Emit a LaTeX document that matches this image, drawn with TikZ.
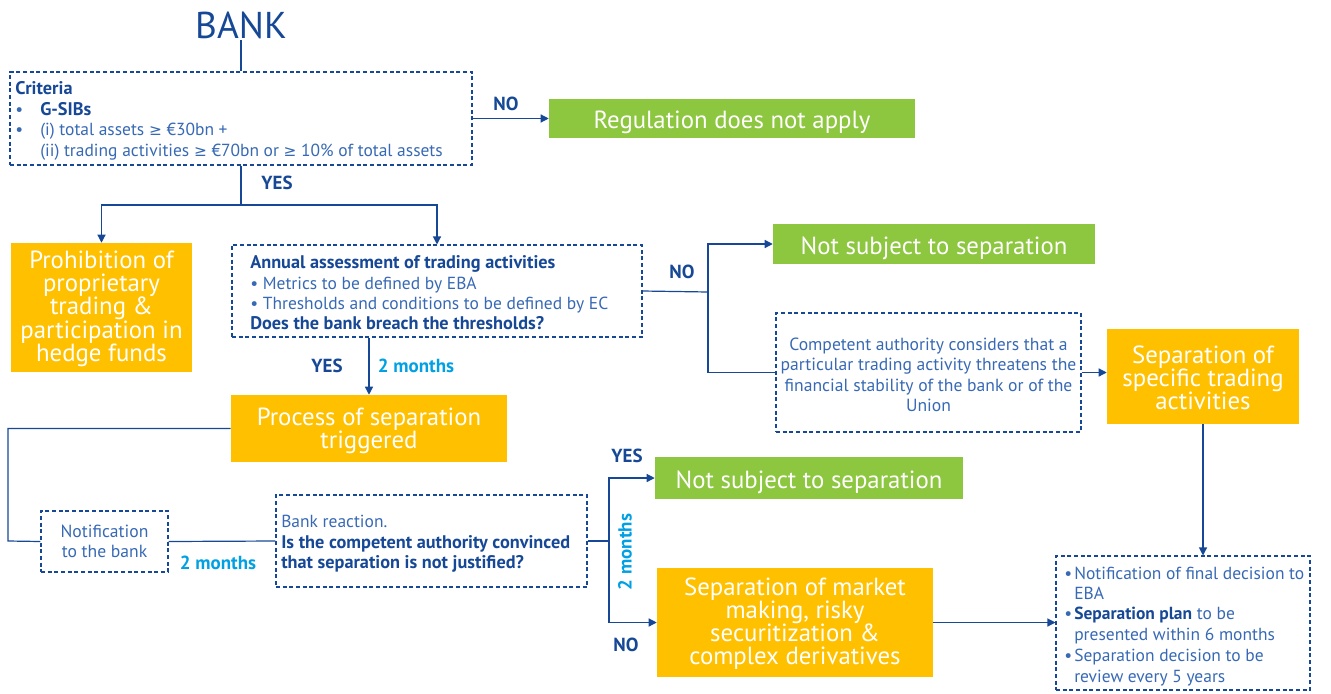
\documentclass[tikz,border=0pt]{standalone}
\usepackage{fontspec}
\setmainfont{PT Sans}
\newfontfamily\symf{DejaVu Sans}
\usetikzlibrary{fit,arrows.meta}
\definecolor{dblue}{RGB}{22,72,150}
\definecolor{tblue}{RGB}{55,105,180}
\definecolor{lblue}{RGB}{0,160,227}
\definecolor{orng}{RGB}{255,192,0}
\definecolor{grn}{RGB}{141,198,63}
\newcommand{\gesym}{{\symf\fontsize{11.5}{12}\selectfont ≥}}
\tikzset{
 dbox/.style={draw=dblue, dash pattern=on 3pt off 2pt, line width=0.8pt, inner sep=0pt},
 obox/.style={fill=orng, inner sep=0pt},
 gbox/.style={fill=grn, inner sep=0pt},
 conn/.style={draw=dblue, line width=0.9pt},
 arr/.style={conn, -{Triangle[width=6pt,length=6pt]}},
 big/.style={text=white, font=\fontsize{18.6}{17.4}\selectfont, align=center, inner sep=0pt},
 txt/.style={text=tblue, font=\fontsize{13.1}{15}\selectfont, inner sep=0pt, anchor=base west},
 btxt/.style={txt, text=dblue, font=\fontsize{13.7}{15}\selectfont\bfseries},
 ctxt/.style={text=tblue, font=\fontsize{13.2}{15.3}\selectfont, inner sep=0pt, align=center},
 lab/.style={text=dblue, font=\fontsize{14.2}{15}\selectfont\bfseries, inner sep=0pt},
 mlab/.style={text=lblue, font=\fontsize{14.2}{15}\selectfont\bfseries, inner sep=0pt},
}
\begin{document}
\begin{tikzpicture}[x=0.75pt,y=-0.75pt]
\useasboundingbox (0,0) rectangle (1331,693);
% title
\node[text=dblue, font=\fontsize{28}{30}\selectfont, inner sep=1pt] (bank) at (241,25) {BANK};
% criteria box
\node[dbox, fit={(10,72)(472,165)}] (crit) {};
\node[btxt] at (15,94) {Criteria};
\node[txt] at (15,115) {•};
\node[btxt] at (40,115) {G-SIBs};
\node[txt] at (15,135) {•};
\node[txt] at (40,135) {(i) total assets \gesym{} €30bn +};
\node[txt] at (40,156) {(ii) trading activities \gesym{} €70bn or \gesym{} 10\% of total assets};
% regulation does not apply
\node[gbox, fit={(549,99)(915,138)}] (reg) {};
\node[big] at ([yshift=-3pt]reg.center) {Regulation does not apply};
% prohibition
\node[obox, fit={(11,243)(192,372)}] (prohib) {};
\node[big] at ([yshift=-1pt]prohib.center) {Prohibition of\\proprietary\\trading \&\\participation in\\hedge funds};
% annual
\node[dbox, fit={(232,245)(642,337)}] (annual) {};
\node[btxt] at (250,268) {Annual assessment of trading activities};
\node[txt] at (250,289) {• Metrics to be defined by EBA};
\node[txt] at (250,309) {• Thresholds and conditions to be defined by EC};
\node[btxt] at (250,329) {Does the bank breach the thresholds?};
% not subject 1
\node[gbox, fit={(773,224)(1095,264)}] (nss1) {};
\node[big] at ([yshift=-3pt]nss1.center) {Not subject to separation};
% competent authority
\node[dbox, fit={(776,313)(1081,432)}] (comp) {};
\node[ctxt] at (928.5,375) {Competent authority considers that a\\particular trading activity threatens the\\financial stability of the bank or of the\\Union};
% separation specific
\node[obox, fit={(1107,329)(1299,424)}] (sst) {};
\node[big] at ([yshift=-1pt]sst.center) {Separation of\\specific trading\\activities};
% process
\node[obox, fit={(231,395)(507,462)}] (proc) {};
\node[big] at ([yshift=-1.5pt]proc.center) {Process of separation\\triggered};
% notification
\node[dbox, fit={(41,511)(168,572)}] (notif) {};
\node[ctxt] at (notif.center) {Notification\\to the bank};
% bank reaction
\node[dbox, fit={(276,495)(587,587)}] (bankr) {};
\node[txt] at (281,527) {Bank reaction.};
\node[btxt] at (281,548) {Is the competent authority convinced};
\node[btxt] at (281,568) {that separation is not justified?};
% not subject 2
\node[gbox, fit={(655,457)(963,499)}] (nss2) {};
\node[big] at ([yshift=-3pt]nss2.center) {Not subject to separation};
% separation of market making
\node[obox, fit={(657,568)(933,677)}] (smm) {};
\node[big] at ([yshift=-1pt]smm.center) {Separation of market\\making, risky\\securitization \&\\complex derivatives};
% final box
\node[dbox, fit={(1056,556)(1310,690)}] (final) {};
\node[txt] at (1064,579) {•};
\node[txt] at (1074,579) {Notification of final decision to};
\node[txt] at (1074,599) {EBA};
\node[txt] at (1064,619) {•};
\node[txt] at (1074,619) {\textcolor{dblue}{\bfseries Separation plan} to be};
\node[txt] at (1074,640) {presented within 6 months};
\node[txt] at (1064,661) {•};
\node[txt] at (1074,661) {Separation decision to be};
\node[txt] at (1074,682) {review every 5 years};
% junctions
\coordinate (j1) at (241,205);
\coordinate (j2) at (708,292);
\coordinate (j3) at (8,541);
\coordinate (j4) at (609,541);
% connectors
\draw[conn] (bank.south) -- (crit.north);
\draw[arr] (crit.east) -- (reg.west);
\draw[conn] (crit.south) -- (j1);
\draw[arr] (j1) -| (prohib.north);
\draw[arr] (j1) -| (annual.north);
\draw[conn] (annual.east) -- (j2);
\draw[arr] (j2) |- (nss1.west);
\draw[conn] (j2) |- (comp.west);
\draw[arr] (comp.east) -- (comp.east -| sst.west);
\draw[arr] (sst.south) -- (sst.south |- final.north);
\draw[arr] (proc.north |- annual.south) -- (proc.north);
\draw[conn] (proc.west) -| (j3) -- (notif.west);
\draw[conn] (notif.east) -- (bankr.west);
\draw[conn] (bankr.east) -- (j4);
\draw[arr] (j4) |- (nss2.west);
\draw[arr] (j4) |- (smm.west);
\draw[arr] (smm.east) -- (smm.east -| final.west);
% labels
\node[lab] at (506,104) {NO};
\node[lab] at (277,183) {YES};
\node[lab] at (682,272) {NO};
\node[lab] at (327,366) {YES};
\node[mlab] at (416,366) {2 months};
\node[mlab] at (218,563) {2 months};
\node[lab] at (627,456) {YES};
\node[lab] at (626,645) {NO};
\node[mlab, rotate=90] at (625,552) {2 months};
\end{tikzpicture}
\end{document}
